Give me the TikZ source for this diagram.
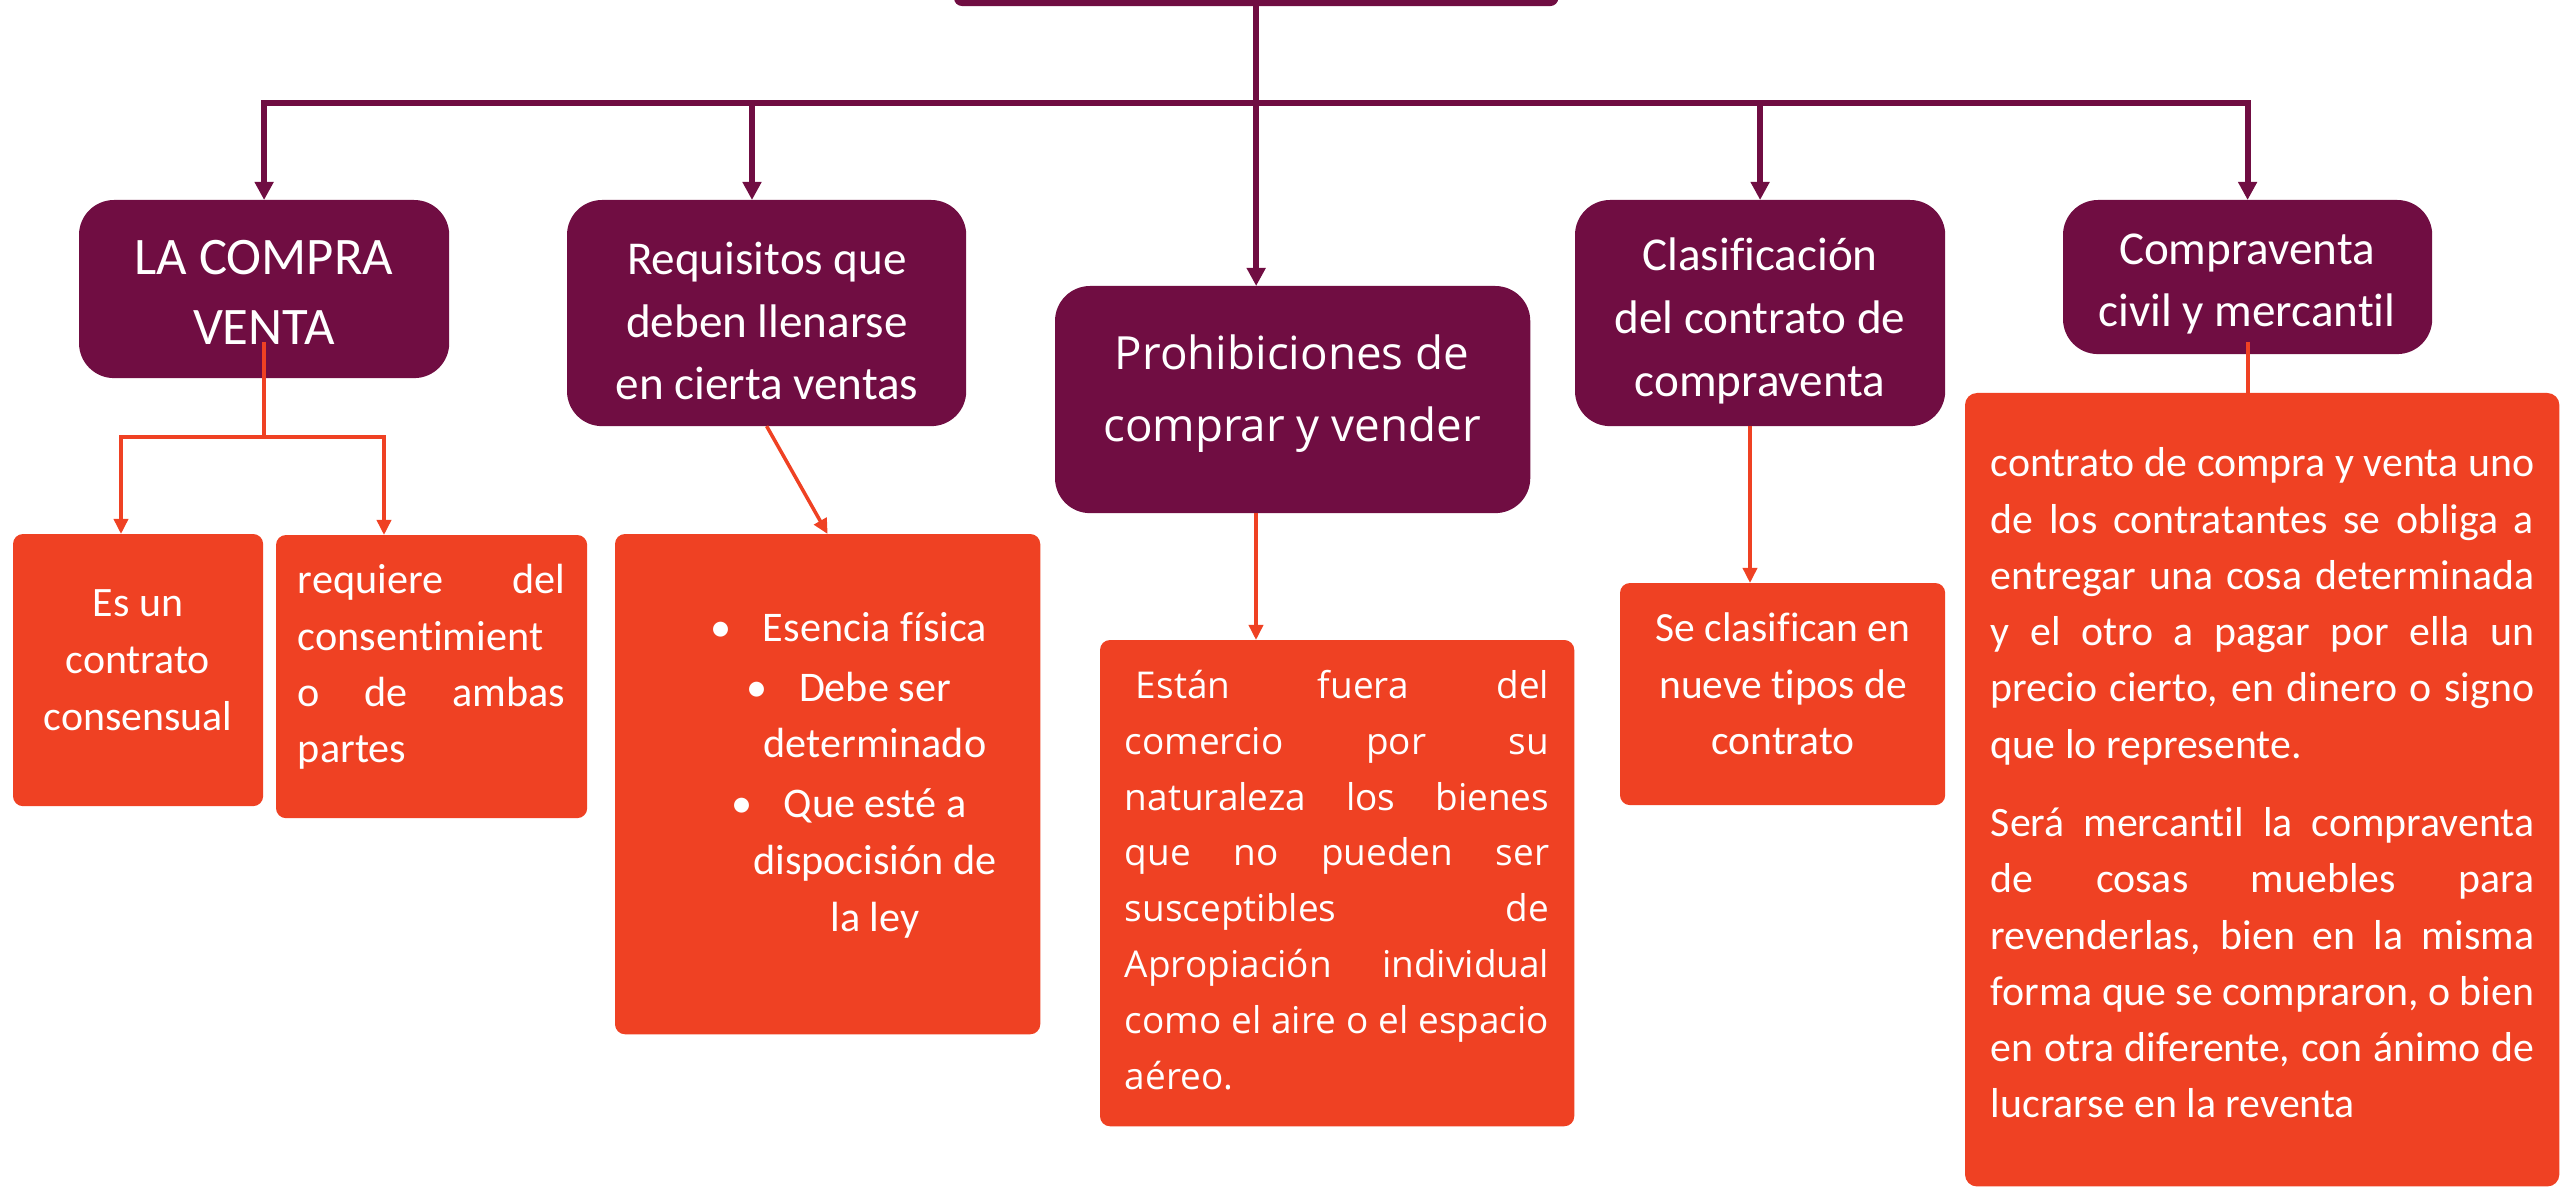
\documentclass[tikz,border=0pt]{standalone}
\usepackage{fontspec}
\setmainfont{Carlito}[Ligatures=NoCommon]
\newfontfamily\osans{Open Sans}[Ligatures=NoCommon]
\usetikzlibrary{arrows.meta,calc}
\definecolor{purp}{RGB}{112,13,66}
\definecolor{orng}{RGB}{239,65,35}
\begin{document}
\begin{tikzpicture}[x=0.01cm,y=-0.01cm,
  pbox/.style={fill=purp, rounded corners=0.35cm, inner sep=0pt, outer sep=0pt, anchor=north west},
  obox/.style={fill=orng, rounded corners=0.1cm, inner sep=0pt, outer sep=0pt, anchor=north west},
  wtext/.style={text=white, inner sep=0pt, outer sep=0pt, align=center},
  pline/.style={draw=purp, line width=1.7pt},
  parrow/.style={pline, -{Triangle[length=0.18cm,width=0.18cm]}},
  oline/.style={draw=orng, line width=1pt},
  oarrow/.style={oline, -{Triangle[length=0.15cm,width=0.14cm]}},
]
\useasboundingbox (0,0) rectangle (2562,1188);

% boxes
\node[pbox, rounded corners=0.08cm, minimum width=6.04cm, minimum height=0.66cm] (top) at (954,-60) {};
\node[pbox, minimum width=3.70cm, minimum height=1.78cm] (b1) at (79,200) {};
\node[pbox, minimum width=3.99cm, minimum height=2.26cm] (b2) at (567,200) {};
\node[pbox, minimum width=4.75cm, minimum height=2.27cm] (b3) at (1055,286) {};
\node[pbox, minimum width=3.70cm, minimum height=2.26cm] (b4) at (1575,200) {};
\node[pbox, minimum width=3.69cm, minimum height=1.54cm] (b5) at (2063,200) {};
\node[obox, minimum width=2.50cm, minimum height=2.72cm] (b7) at (13,534) {};
\node[obox, minimum width=3.11cm, minimum height=2.83cm] (b8) at (276,535) {};
\node[obox, minimum width=4.25cm, minimum height=5.00cm] (b9) at (615,534) {};
\node[obox, minimum width=4.74cm, minimum height=4.86cm] (b10) at (1100,640) {};
\node[obox, minimum width=3.25cm, minimum height=2.22cm] (b11) at (1620,583) {};
\node[obox, rounded corners=0.12cm, minimum width=5.94cm, minimum height=7.93cm] (b6) at (1965,393) {};

% texts
\node[wtext, font=\fontsize{15}{19.9}\selectfont] (t1) at (264,292) {LA COMPRA\\VENTA};
\node[wtext, font=\fontsize{13.4}{17.9}\selectfont] (t2) at (767,321) {Requisitos que\\deben llenarse\\en cierta ventas};
\node[wtext, font=\osans\fontsize{13}{20.5}\selectfont] (t3) at (1292,394) {Prohibiciones de\\comprar y vender};
\node[wtext, font=\fontsize{13.4}{17.9}\selectfont] (t4) at (1760,321) {Clasificación\\del contrato de\\compraventa};
\node[wtext, font=\fontsize{13.4}{17.6}\selectfont] (t5) at (2247,284) {Compraventa\\civil y mercantil};
\node[wtext, font=\fontsize{11.9}{16.2}\selectfont] (t7) at (138,660) {Es un\\contrato\\consensual};
\node[wtext, align=left, font=\fontsize{12}{16}\selectfont] (t8) at (431.5,667)
  {\makebox[2.67cm][s]{requiere del}\\consentimient\\\makebox[2.67cm][s]{o de ambas}\\partes};
\node[wtext, font=\fontsize{12}{16.1}\selectfont] (t9) at (875,775)
  {\llap{\textbullet\hspace{9pt}}Esencia física\\[1pt]\llap{\textbullet\hspace{9pt}}Debe ser\\determinado\\[1pt]\llap{\textbullet\hspace{9pt}}Que esté a\\dispocisión de\\la ley};
\node[wtext, align=left, font=\osans\fontsize{10.5}{15.9}\selectfont] (t10) at (1337,880)
  {\makebox[4.24cm][s]{\hspace{0.11cm}Están fuera del}\\
   \makebox[4.24cm][s]{comercio por su}\\
   \makebox[4.24cm][s]{naturaleza los bienes}\\
   \makebox[4.24cm][s]{que no pueden ser}\\
   \makebox[4.24cm][s]{susceptibles de}\\
   \makebox[4.24cm][s]{Apropiación individual}\\
   \makebox[4.24cm][s]{como el aire o el espacio}\\
   aéreo.};
\node[wtext, font=\fontsize{11.8}{16.1}\selectfont] (t11) at (1783,684) {Se clasifican en\\nueve tipos de\\contrato};
\node[wtext, align=left, font=\fontsize{11.9}{16}\selectfont] (t6) at (2262.5,783)
  {\makebox[5.43cm][s]{contrato de compra y venta uno}\\
   \makebox[5.43cm][s]{de los contratantes se obliga a}\\
   \makebox[5.43cm][s]{entregar una cosa determinada}\\
   \makebox[5.43cm][s]{y el otro a pagar por ella un}\\
   \makebox[5.43cm][s]{precio cierto, en dinero o signo}\\
   que lo represente.\\[6.3pt]
   \makebox[5.43cm][s]{Será mercantil la compraventa}\\
   \makebox[5.43cm][s]{de cosas muebles para}\\
   \makebox[5.43cm][s]{revenderlas, bien en la misma}\\
   \makebox[5.43cm][s]{forma que se compraron, o bien}\\
   \makebox[5.43cm][s]{en otra diferente, con ánimo de}\\
   lucrarse en la reventa};

% purple connectors
\coordinate (bus) at (1256,103);
\coordinate (a2) at (752,200);
\draw[parrow] (top.south) -- (top.south |- b3.north);
\draw[parrow] (bus) -| (b1.north);
\draw[parrow] (bus) -| (a2);
\draw[parrow] (bus) -| (b4.north);
\draw[parrow] (bus) -| (b5.north);

% orange connectors
\coordinate (o1) at (264,342);
\coordinate (j1) at (264,437);
\coordinate (a7) at (121,534);
\coordinate (a8) at (384,535);
\draw[oarrow] (o1) -- (j1) -| (a7);
\draw[oarrow] (j1) -| (a8);
\draw[oarrow] (b2.south) -- (b9.north);
\coordinate (o3) at (1256,513);
\draw[oarrow] (o3) -- (o3 |- b10.north);
\coordinate (o4) at (1750,426);
\draw[oarrow] (o4) -- (o4 |- b11.north);
\coordinate (o5) at (2248,342);
\draw[oline] (o5) -- (o5 |- b6.north);
\end{tikzpicture}
\end{document}
